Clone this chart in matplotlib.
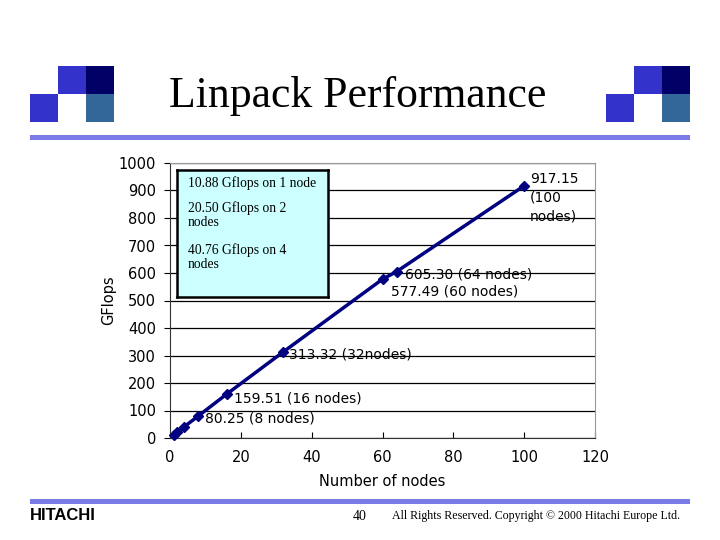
import matplotlib
matplotlib.use("Agg")
import matplotlib.pyplot as plt
from matplotlib.patches import Rectangle

# ─── data ──────────────────────────────────────────────
nodes = [1, 2, 4, 8, 16, 32, 60, 64, 100]
gflops = [10.88, 20.50, 40.76, 80.25, 159.51, 313.32, 577.49, 605.30, 917.15]

x_ticks = [0, 20, 40, 60, 80, 100, 120]
y_ticks = [0, 100, 200, 300, 400, 500, 600, 700, 800, 900, 1000]

# point labels: (index into data, text, offset in points, vertical anchor)
point_labels = [
    (3, "80.25 (8 nodes)", (5, -7), "bottom"),
    (4, "159.51 (16 nodes)", (5, -8), "bottom"),
    (5, "313.32 (32nodes)", (4, -7), "bottom"),
    (6, "577.49 (60 nodes)", (6, -14), "bottom"),
    (7, "605.30 (64 nodes)", (6, -7), "bottom"),
    (8, "917.15\n(100\nnodes)", (4, 10), "top"),
]
box_lines = ["10.88 Gflops on 1 node",
             "20.50 Gflops on 2\nnodes",
             "40.76 Gflops on 4\nnodes"]
box_line_y = [176, 201, 243]   # pixel rows (top of each block)

NAVY = "#000080"
LINE_BLUE = "#7b7be8"

fig = plt.figure(figsize=(7.2, 5.4), dpi=100)
W, H = 720.0, 540.0


def box(x, y, w, h, color):
    # pixel coords from top-left -> figure fraction
    fig.patches.append(Rectangle((x / W, 1 - (y + h) / H), w / W, h / H,
                                 transform=fig.transFigure, color=color, lw=0))


# ── header logos ──
for x0 in (30, 606):
    box(x0 + 28, 66, 28, 28, "#3333cc")
    box(x0 + 56, 66, 28, 28, "#000066")
    box(x0, 94, 28, 28, "#3333cc")
    box(x0 + 56, 94, 28, 28, "#336699")

fig.text(0.497, 1 - 96 / H, "Linpack Performance", ha="center", va="center",
         family="Liberation Serif", fontsize=31.5)
box(30, 135, 660, 5, LINE_BLUE)
box(30, 499, 660, 5, LINE_BLUE)

fig.text(30 / W, 1 - 516 / H, "HITACHI", ha="left", va="center",
         family="Liberation Sans", fontweight="bold", fontsize=12)
fig.text(360 / W, 1 - 516 / H, "40", ha="center", va="center",
         family="Liberation Serif", fontsize=10)
fig.text(392 / W, 1 - 516 / H,
         "All Rights Reserved. Copyright \u00a9 2000 Hitachi Europe Ltd.",
         ha="left", va="center", family="Liberation Serif", fontsize=8.6)

# ── chart ──
ax = fig.add_axes([170 / W, 1 - 438 / H, 425 / W, 275 / H])
ax.plot(nodes, gflops, color=NAVY, lw=2.5, marker="D", markersize=5,
        zorder=3, clip_on=False)
ax.set_xlim(0, 120)
ax.set_ylim(0, 1000)
ax.set_xticks(x_ticks)
ax.set_yticks(y_ticks)
ax.yaxis.grid(True, color="black", lw=0.9)
ax.set_axisbelow(True)
for s in ("top", "right"):
    ax.spines[s].set_color("#999999")
for s in ("left", "bottom"):
    ax.spines[s].set_color("#333333")
ax.tick_params(axis="x", direction="in", length=4, labelsize=10.5, pad=9)
ax.tick_params(axis="y", direction="out", length=4, labelsize=10.5, pad=6)
ax.set_xlabel("Number of nodes", fontsize=10.5, labelpad=6)
ax.set_ylabel("GFlops", fontsize=10.5, labelpad=2)

for i, txt, off, va in point_labels:
    ax.annotate(txt, (nodes[i], gflops[i]), xytext=off,
                textcoords="offset points", fontsize=10, ha="left",
                va=va, linespacing=1.45)

# text box with small-node figures
tb = fig.add_axes([177 / W, 1 - 297 / H, 151 / W, 127 / H])
tb.set_xticks([])
tb.set_yticks([])
tb.set_facecolor("#ccffff")
for s in tb.spines.values():
    s.set_linewidth(1.8)
    s.set_color("black")
for txt, yy in zip(box_lines, box_line_y):
    tb.text(11 / 151, 1 - (yy - 170) / 127, txt, transform=tb.transAxes,
            ha="left", va="top", family="Liberation Serif", fontsize=9.8,
            linespacing=1.15)

fig.savefig("out.png", dpi=100)
